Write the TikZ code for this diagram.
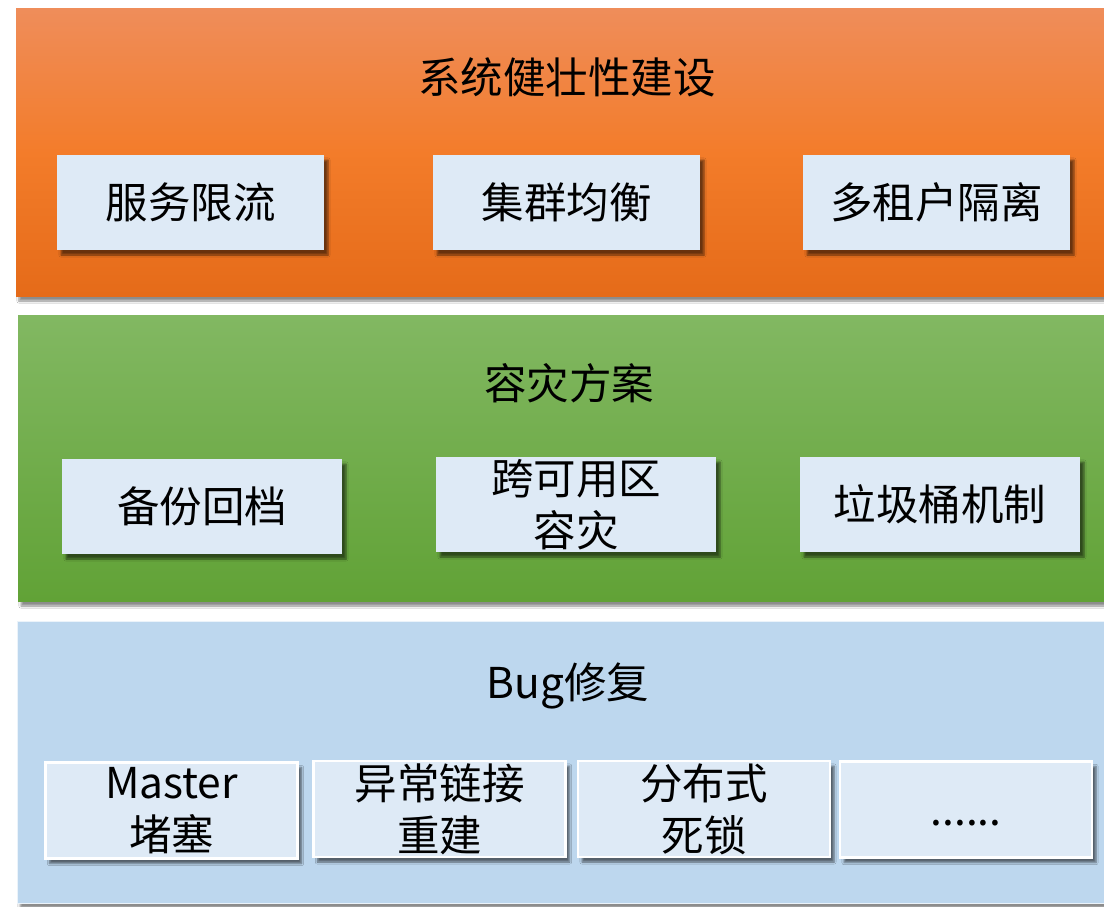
\documentclass[tikz,border=0pt]{standalone}
\usepackage{fontspec}
\setmainfont{Noto Sans CJK SC}
\usetikzlibrary{shadows,shadows.blur}
\definecolor{orTop}{HTML}{EF8D5A}
\definecolor{orMid}{HTML}{F37C2A}
\definecolor{orBot}{HTML}{E56B19}
\definecolor{grTop}{HTML}{82B862}
\definecolor{grBot}{HTML}{61A236}
\definecolor{bluePanel}{HTML}{BDD7EE}
\definecolor{boxFill}{HTML}{DEEAF6}
\begin{document}
\begin{tikzpicture}[x=1pt,y=-1pt,
  panel/.style={rectangle, inner sep=0pt, draw=none,
    blur shadow={shadow xshift=3pt, shadow yshift=-5pt, shadow blur steps=6, shadow opacity=45}},
  item/.style={rectangle, inner sep=0pt, fill=boxFill, draw=none, align=center,
    font=\fontsize{42.5}{52}\selectfont,
    blur shadow={shadow xshift=4pt, shadow yshift=-5pt, shadow blur steps=5, shadow opacity=55}},
  bitem/.style={item, draw=white, line width=2.5pt},
  title/.style={font=\fontsize{42.5}{50}\selectfont, inner sep=0pt}
]
\useasboundingbox (0,0) rectangle (1104,907);
\fill[white] (0,0) rectangle (1104,907);

% panels
\node[panel, minimum width=1100pt, minimum height=287pt,
  top color=orTop, bottom color=orBot, middle color=orMid] (p1) at (566,152.5) {};
\node[panel, minimum width=1100pt, minimum height=286pt,
  top color=grTop, bottom color=grBot] (p2) at (568,458) {};
\node[panel, minimum width=1100pt, minimum height=282pt, fill=bluePanel,
  draw=white!70!bluePanel, line width=1pt] (p3) at (567,762) {};

% titles
\node[title] (t1) at (567,77) {系统健壮性建设};
\node[title] (t2) at (569,383) {容灾方案};
\node[title] (t3) at (568,686) {Bug修复};

% orange row
\node[item, minimum width=267pt, minimum height=95pt] (o1) at (190.5,202.5) {服务限流};
\node[item, minimum width=267pt, minimum height=95pt] (o2) at (566.5,202.5) {集群均衡};
\node[item, minimum width=267pt, minimum height=95pt] (o3) at (936.5,202.5) {多租户隔离};

% green row
\node[item, minimum width=280pt, minimum height=95pt] (g1) at (202,506.5) {备份回档};
\node[item, minimum width=280pt, minimum height=95pt] (g2) at (576,504.5) {跨可用区\\容灾};
\node[item, minimum width=280pt, minimum height=95pt] (g3) at (940,504.5) {垃圾桶机制};

% blue row
\node[bitem, minimum width=252pt, minimum height=96pt] (b1) at (171.5,810.5) {Master\\堵塞};
\node[bitem, minimum width=252pt, minimum height=96pt] (b2) at (439.5,809) {异常链接\\重建};
\node[bitem, minimum width=252pt, minimum height=96pt] (b3) at (704,809) {分布式\\死锁};
\node[bitem, minimum width=252pt, minimum height=96pt] (b4) at (966,809.5) {\vphantom{堵}......};
\end{tikzpicture}
\end{document}
